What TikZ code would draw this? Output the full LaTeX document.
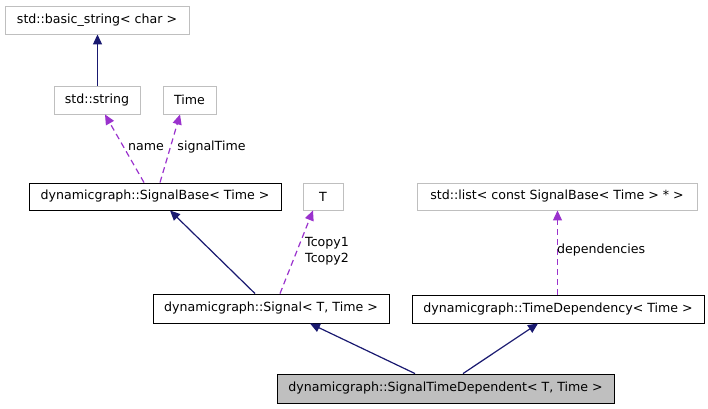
\documentclass[tikz,border=0pt]{standalone}
\usepackage{fontspec}
\setmainfont{DejaVu Sans}
\usetikzlibrary{arrows.meta}
\definecolor{navy}{HTML}{191970}
\definecolor{orchid}{HTML}{9A32CD}
\definecolor{boxgray}{HTML}{BFBFBF}
\begin{document}
\begin{tikzpicture}[x=1pt,y=-1pt,
  cls/.style={draw=black,line width=0.9pt,fill=white,minimum height=28pt,inner sep=0pt,font=\fontsize{12.6}{14}\selectfont},
  ext/.style={cls,draw=boxgray},
  cur/.style={cls,fill=boxgray},
  inh/.style={draw=navy,line width=1.2pt,-{Triangle[length=10pt,width=9pt]}},
  mem/.style={draw=orchid,line width=1.2pt,dash pattern=on 6pt off 4pt,-{Triangle[length=10pt,width=9pt]}},
  lbl/.style={font=\fontsize{12.6}{14}\selectfont,inner sep=0pt,text=black}]
\useasboundingbox (0,0) rectangle (708,408);
\node[ext,minimum width=184pt] (bs) at (97,20) {std::basic\_string< char >};
\node[ext,minimum width=86pt] (str) at (97,100) {std::string};
\node[ext,minimum width=53pt] (time) at (189.5,100) {Time};
\node[cls,minimum width=252pt,minimum height=27pt] (sb) at (155,196.5) {dynamicgraph::SignalBase< Time >};
\node[ext,minimum width=40pt,minimum height=27pt] (T) at (323,196.5) {T};
\node[ext,minimum width=280pt,minimum height=27pt] (list) at (557,196.5) {std::list< const SignalBase< Time > * >};
\node[cls,minimum width=236pt,minimum height=29pt] (sig) at (271,308.5) {dynamicgraph::Signal< T, Time >};
\node[cls,minimum width=292pt,minimum height=28pt] (td) at (558,309) {dynamicgraph::TimeDependency< Time >};
\node[cur,minimum width=337pt,minimum height=29pt] (std) at (445.5,388.5) {dynamicgraph::SignalTimeDependent< T, Time >};
\draw[inh] ([xshift=0.5pt]str.north) -- ([xshift=0.5pt]bs.south);
\draw[mem] ([xshift=-11pt]sb.north) -- ([xshift=8pt]str.south);
\draw[mem] ([xshift=5pt]sb.north) -- ([xshift=-9.5pt]time.south);
\draw[inh] ([xshift=-16pt]sig.north) -- ([xshift=15pt]sb.south);
\draw[mem] ([xshift=9pt]sig.north) -- ([xshift=-10pt]T.south);
\draw[mem] ([xshift=-0.5pt]td.north) -- ([xshift=0.5pt]list.south);
\draw[inh] ([xshift=-30.5pt]std.north) -- ([xshift=39pt]sig.south);
\draw[inh] ([xshift=17.5pt]std.north) -- ([xshift=-20pt]td.south);
\node[lbl] (lname) at (146,147) {name};
\node[lbl] (lsig) at (211.5,147) {signalTime};
\node[lbl,align=left,anchor=west] (lt) at (305,251) {Tcopy1\\[2pt]Tcopy2};
\node[lbl,anchor=west] (ldep) at (557,250) {dependencies};
\end{tikzpicture}
\end{document}
